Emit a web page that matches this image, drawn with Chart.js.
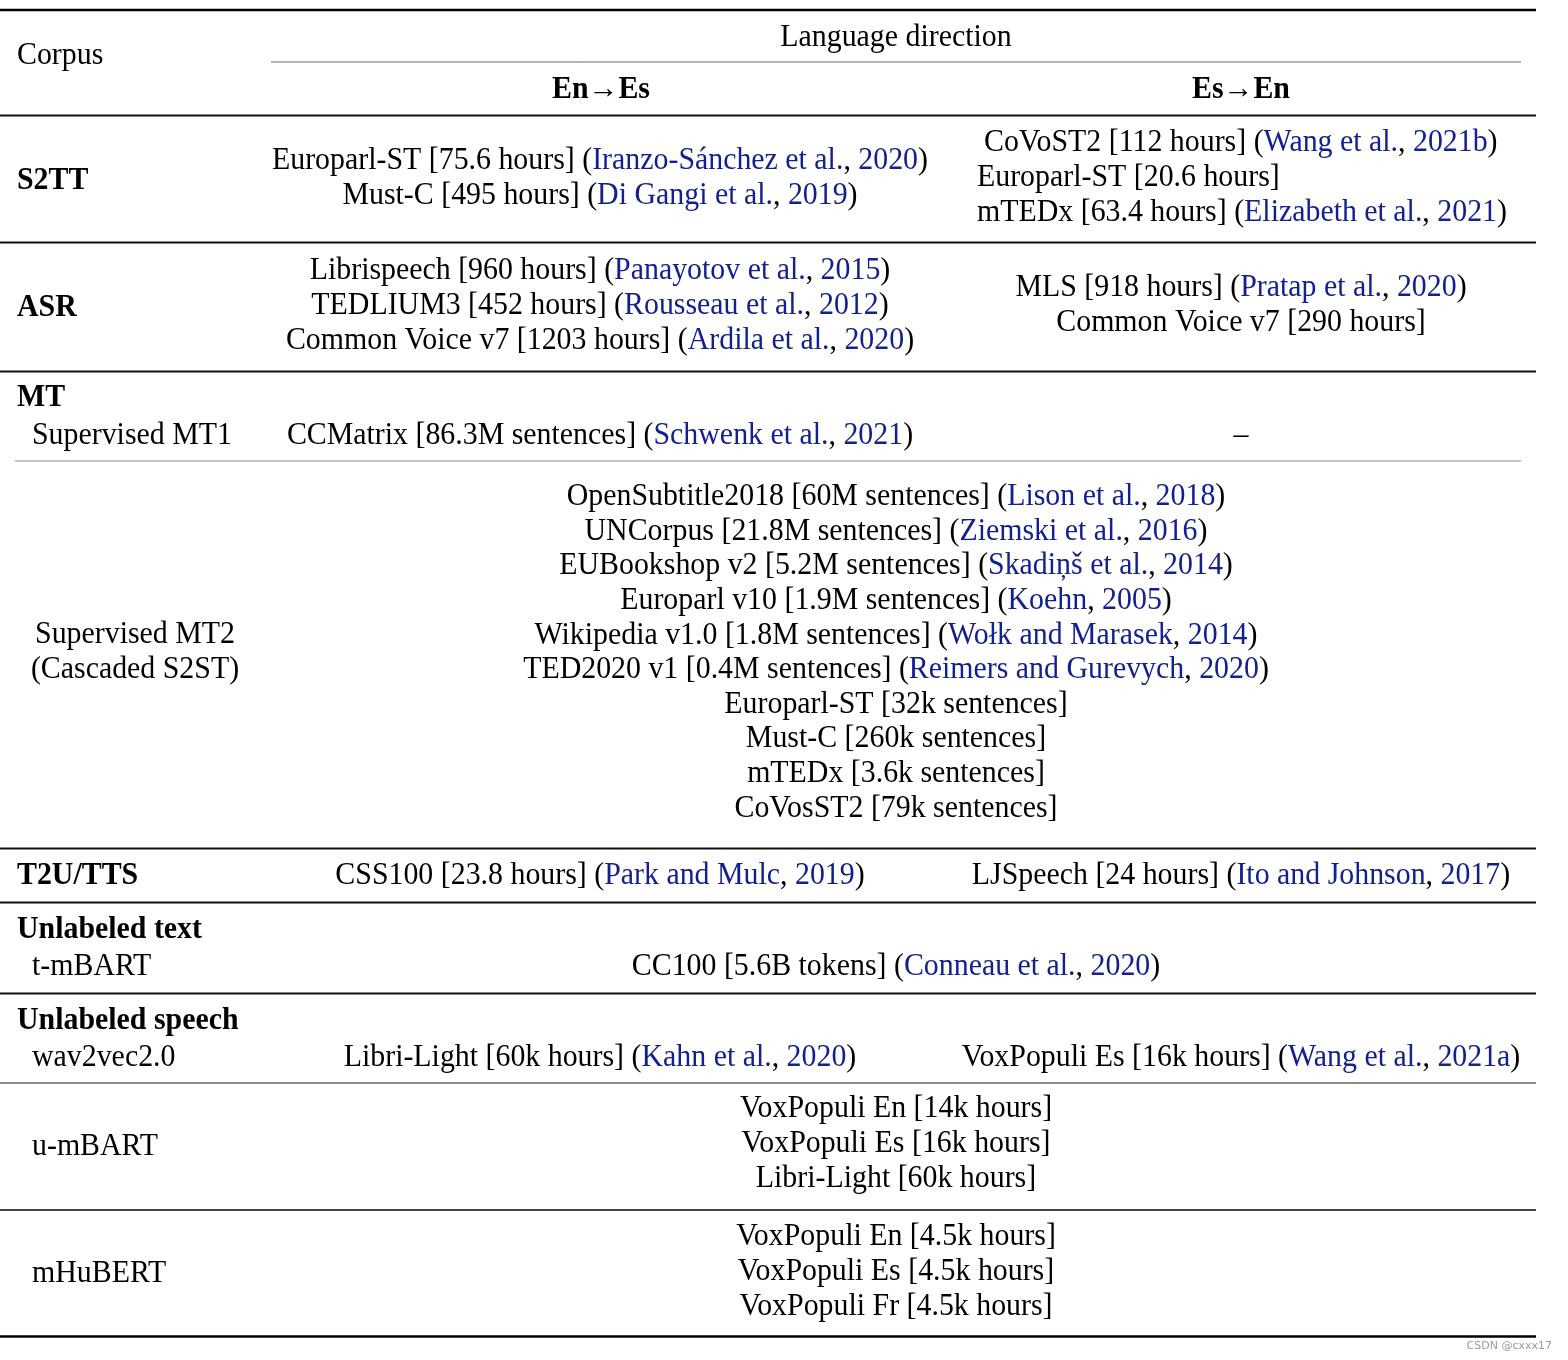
<!DOCTYPE html>
<html>
<head>
<meta charset="utf-8">
<script src="https://cdn.jsdelivr.net/npm/chart.js@4"></script>
<style>
  body { margin: 0; background: #fff; }
  canvas { display: block; }
</style>
</head>
<body>
<canvas id="table" width="1568" height="1360"></canvas>
<script>
// table content: [corpus, size, cited authors, year]
const directions = ['En→Es', 'Es→En'];
const groupLabels = ['S2TT', 'ASR', 'MT', 'T2U/TTS', 'Unlabeled text', 'Unlabeled speech'];
const subLabels = ['Supervised MT1', 't-mBART', 'wav2vec2.0', 'u-mBART', 'mHuBERT'];
const mt2Label = ['Supervised MT2', '(Cascaded S2ST)'];

const s2ttEnEs = [
  ['Europarl-ST', '75.6 hours', 'Iranzo-Sánchez et al.', '2020'],
  ['Must-C', '495 hours', 'Di Gangi et al.', '2019'],
];
const s2ttEsEn = [
  ['CoVoST2', '112 hours', 'Wang et al.', '2021b'],
  ['Europarl-ST', '20.6 hours'],
  ['mTEDx', '63.4 hours', 'Elizabeth et al.', '2021'],
];
const asrEnEs = [
  ['Librispeech', '960 hours', 'Panayotov et al.', '2015'],
  ['TEDLIUM3', '452 hours', 'Rousseau et al.', '2012'],
  ['Common Voice v7', '1203 hours', 'Ardila et al.', '2020'],
];
const asrEsEn = [
  ['MLS', '918 hours', 'Pratap et al.', '2020'],
  ['Common Voice v7', '290 hours'],
];
const mt1EnEs = [['CCMatrix', '86.3M sentences', 'Schwenk et al.', '2021']];
const mt1EsEn = [['–']];
const mt2Both = [
  ['OpenSubtitle2018', '60M sentences', 'Lison et al.', '2018'],
  ['UNCorpus', '21.8M sentences', 'Ziemski et al.', '2016'],
  ['EUBookshop v2', '5.2M sentences', 'Skadiņš et al.', '2014'],
  ['Europarl v10', '1.9M sentences', 'Koehn', '2005'],
  ['Wikipedia v1.0', '1.8M sentences', 'Wołk and Marasek', '2014'],
  ['TED2020 v1', '0.4M sentences', 'Reimers and Gurevych', '2020'],
  ['Europarl-ST', '32k sentences'],
  ['Must-C', '260k sentences'],
  ['mTEDx', '3.6k sentences'],
  ['CoVosST2', '79k sentences'],
];
const ttsEnEs = [['CSS100', '23.8 hours', 'Park and Mulc', '2019']];
const ttsEsEn = [['LJSpeech', '24 hours', 'Ito and Johnson', '2017']];
const textBoth = [['CC100', '5.6B tokens', 'Conneau et al.', '2020']];
const w2vEnEs = [['Libri-Light', '60k hours', 'Kahn et al.', '2020']];
const w2vEsEn = [['VoxPopuli Es', '16k hours', 'Wang et al.', '2021a']];
const umbartBoth = [
  ['VoxPopuli En', '14k hours'],
  ['VoxPopuli Es', '16k hours'],
  ['Libri-Light', '60k hours'],
];
const mhubertBoth = [
  ['VoxPopuli En', '4.5k hours'],
  ['VoxPopuli Es', '4.5k hours'],
  ['VoxPopuli Fr', '4.5k hours'],
];

// layout (in table units, same as the page pixels)
const W = 1568, H = 1360;
const BLACK = '#000', BLUE = '#13208f';
const FONT = '"Liberation Serif", "Times New Roman", serif';
const SIZE = 31;
const DY = 2; // text sits a little lower than the row centres

const rules = [
  { y: 10, x0: 0, x1: 1536, w: 2.5, c: '#000' },
  { y: 62, x0: 271, x1: 1521, w: 1, c: '#666' },
  { y: 115.5, x0: 0, x1: 1536, w: 2.2, c: '#111' },
  { y: 242.5, x0: 0, x1: 1536, w: 2.2, c: '#111' },
  { y: 371.5, x0: 0, x1: 1536, w: 2.2, c: '#111' },
  { y: 461, x0: 15, x1: 1521, w: 1.2, c: '#888' },
  { y: 848.5, x0: 0, x1: 1536, w: 2.2, c: '#111' },
  { y: 902.5, x0: 0, x1: 1536, w: 2.2, c: '#111' },
  { y: 993.5, x0: 0, x1: 1536, w: 2.2, c: '#111' },
  { y: 1083, x0: 0, x1: 1536, w: 1.4, c: '#666' },
  { y: 1210, x0: 0, x1: 1536, w: 2, c: '#444' },
  { y: 1336.5, x0: 0, x1: 1536, w: 2.5, c: '#000' },
];

const cells = [
  { items: s2ttEnEs, x: 600, y: 159, align: 'center' },
  { items: s2ttEsEn, x: 977, y: 141, align: 'left', indent: 7 },
  { items: asrEnEs, x: 600, y: 269, align: 'center' },
  { items: asrEsEn, x: 1241, y: 286, align: 'center' },
  { items: mt1EnEs, x: 600, y: 434, align: 'center' },
  { items: mt1EsEn, x: 1241, y: 434, align: 'center' },
  { items: mt2Both, x: 896, y: 495, align: 'center', step: 34.6 },
  { items: ttsEnEs, x: 600, y: 874, align: 'center' },
  { items: ttsEsEn, x: 1241, y: 874, align: 'center' },
  { items: textBoth, x: 896, y: 965, align: 'center' },
  { items: w2vEnEs, x: 600, y: 1056, align: 'center' },
  { items: w2vEsEn, x: 1241, y: 1056, align: 'center' },
  { items: umbartBoth, x: 896, y: 1107, align: 'center' },
  { items: mhubertBoth, x: 896, y: 1235, align: 'center' },
];
const groupY = [179, 306, 396, 874, 928, 1019];
const subY = [434, 965, 1056, 1145, 1272];

function toSegments(entry) {
  const [name, size, who, year] = entry;
  const segs = [[size ? `${name} [${size}]` : name, BLACK]];
  if (who) segs.push([' (', BLACK], [who, BLUE], [', ', BLACK], [year, BLUE], [')', BLACK]);
  return segs;
}

let squeeze = 1;

function drawSegs(ctx, segs, x, y, align, bold) {
  ctx.font = `${bold ? 'bold ' : ''}${SIZE}px ${FONT}`;
  const widths = segs.map(s => ctx.measureText(s[0]).width);
  const total = widths.reduce((a, b) => a + b, 0) * squeeze;
  const start = align === 'center' ? x - total / 2 : x;
  ctx.save();
  ctx.translate(start, y);
  ctx.scale(squeeze, 1);
  ctx.textBaseline = 'middle';
  ctx.textAlign = 'left';
  let off = 0;
  segs.forEach((s, i) => {
    ctx.fillStyle = s[1];
    ctx.fillText(s[0], off, 0);
    off += widths[i];
  });
  ctx.restore();
}

const tableText = {
  id: 'tableText',
  afterDatasetsDraw(chart) {
    const ctx = chart.ctx;
    const xs = chart.scales.x, ys = chart.scales.y;
    const px = v => xs.getPixelForValue(v);
    const py = v => ys.getPixelForValue(v + DY);

    // match the narrow typeset width of the first En→Es line (656px)
    ctx.font = `${SIZE}px ${FONT}`;
    const ref = toSegments(s2ttEnEs[0]).map(s => s[0]).join('');
    squeeze = (px(928) - px(272)) / ctx.measureText(ref).width;

    drawSegs(ctx, [['Corpus', BLACK]], px(17), py(54), 'left', false);
    drawSegs(ctx, [['Language direction', BLACK]], px(896), py(36), 'center', false);
    drawSegs(ctx, [[directions[0], BLACK]], px(601), py(88), 'center', true);
    drawSegs(ctx, [[directions[1], BLACK]], px(1241), py(88), 'center', true);

    groupLabels.forEach((g, i) => drawSegs(ctx, [[g, BLACK]], px(17), py(groupY[i]), 'left', true));
    subLabels.forEach((s, i) => drawSegs(ctx, [[s, BLACK]], px(32), py(subY[i]), 'left', false));
    mt2Label.forEach((s, i) => drawSegs(ctx, [[s, BLACK]], px(135), py(633 + i * 35), 'center', false));

    cells.forEach(cell => {
      const step = cell.step || 35;
      cell.items.forEach((entry, i) => {
        const x = cell.x + (i === 0 && cell.indent ? cell.indent : 0);
        drawSegs(ctx, toSegments(entry), px(x), py(cell.y + i * step), cell.align, false);
      });
    });

    // watermark
    ctx.save();
    ctx.font = '11px "DejaVu Sans", sans-serif';
    ctx.fillStyle = '#9a9a9a';
    ctx.textAlign = 'right';
    ctx.textBaseline = 'middle';
    ctx.fillText('CSDN @cxxx17', px(1552), ys.getPixelForValue(1346));
    ctx.restore();
  }
};

new Chart(document.getElementById('table'), {
  type: 'scatter',
  data: {
    datasets: rules.map(r => ({
      data: [{ x: r.x0, y: r.y }, { x: r.x1, y: r.y }],
      showLine: true,
      borderColor: r.c,
      borderWidth: r.w,
      pointRadius: 0,
      borderCapStyle: 'butt',
    })),
  },
  options: {
    responsive: false,
    animation: false,
    devicePixelRatio: 1,
    layout: { padding: 0 },
    plugins: { legend: { display: false }, tooltip: { enabled: false } },
    scales: {
      x: { type: 'linear', min: 0, max: W, display: false },
      y: { type: 'linear', min: 0, max: H, reverse: true, display: false },
    },
  },
  plugins: [tableText],
});
</script>
</body>
</html>
